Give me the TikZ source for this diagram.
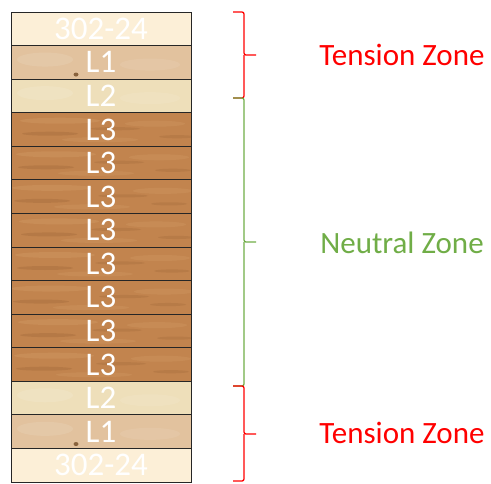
\documentclass[tikz,border=0pt]{standalone}
\usepackage{fontspec}
\setmainfont{Carlito}
\definecolor{capc}{HTML}{FCEFD7}
\definecolor{lonec}{HTML}{E2C29E}
\definecolor{ltwoc}{HTML}{EEDFBA}
\definecolor{lthreec}{HTML}{C2844E}
\definecolor{grainD}{HTML}{9A6234}
\definecolor{grainL}{HTML}{D49E68}
\definecolor{zonered}{HTML}{FF0000}
\definecolor{zonegreen}{HTML}{70AD47}
\begin{document}
\begin{tikzpicture}[x=1pt,y=-1pt,
  layer/.style={draw=black!85, line width=0.9pt, minimum width=180pt,
    minimum height=33.57pt, inner sep=0pt, text=white,
    font=\fontsize{33}{33}\selectfont},
  zone/.style={font=\fontsize{31}{31}\selectfont, inner sep=0pt},
  brace/.style={line width=1.3pt, rounded corners=2pt}]
\useasboundingbox (0,0) rectangle (491,483);

% layer fills
\foreach \i/\c in {0/capc,1/lonec,2/ltwoc,3/lthreec,4/lthreec,5/lthreec,
  6/lthreec,7/lthreec,8/lthreec,9/lthreec,10/lthreec,11/ltwoc,12/lonec,13/capc}
  \fill[\c] (11,{12+\i*33.571}) rectangle (191,{12+(\i+1)*33.571});

% wood grain of the core layers
\foreach \i in {3,...,10} {
  \begin{scope}
    \clip (11,{12+\i*33.571}) rectangle (191,{12+(\i+1)*33.571});
    \pgfmathsetmacro{\yy}{12+\i*33.571}
    \pgfmathsetmacro{\sh}{mod(\i*7,11)-5}
    \fill[grainL, opacity=0.35] ({55+\sh},\yy+8) ellipse (40 and 3);
    \fill[grainL, opacity=0.3] ({160-\sh},\yy+11) ellipse (30 and 3);
    \fill[grainD, opacity=0.3] ({45+\sh},\yy+21) ellipse (28 and 2);
    \fill[grainD, opacity=0.25] ({120-\sh},\yy+16) ellipse (25 and 1.6);
    \fill[grainD, opacity=0.25] ({172+\sh},\yy+24) ellipse (18 and 1.6);
    \fill[grainL, opacity=0.3] ({95+\sh},\yy+27) ellipse (38 and 2.5);
  \end{scope}
}
% blotches on the outer layers
\foreach \i in {1,2,11,12} {
  \begin{scope}
    \clip (11,{12+\i*33.571}) rectangle (191,{12+(\i+1)*33.571});
    \fill[white, opacity=0.1] (45,{12+\i*33.571+14}) ellipse (28 and 7);
    \fill[white, opacity=0.08] (150,{12+\i*33.571+19}) ellipse (30 and 6);
  \end{scope}
}
% knots
\fill[brown!60!black, opacity=0.8] (76,74.5) ellipse (2.5 and 2);
\fill[brown!60!black, opacity=0.8] (76,444) ellipse (2.5 and 2);

% layers with labels
\foreach \i/\t in {0/302-24,1/L1,2/L2,3/L3,4/L3,5/L3,6/L3,7/L3,8/L3,9/L3,
  10/L3,11/L2,12/L1,13/302-24}
  \node[layer] (lay\i) at (101,{12+(\i+0.5)*33.571}) {\t};

% braces
\coordinate (b1t) at (233,12);   \coordinate (b1m) at (256,55);  \coordinate (b1b) at (233,98);
\coordinate (b2t) at (233,98);   \coordinate (b2m) at (256,242); \coordinate (b2b) at (233,386);
\coordinate (b3t) at (233,386);  \coordinate (b3m) at (256,434); \coordinate (b3b) at (233,481);
\draw[brace, zonered] (b1t) -- (244,12) -- (244,55) -- (b1m);
\draw[brace, zonered] (244,55) -- (244,98) -- (b1b);
\draw[brace, zonegreen] (b2t) -- (244,98) -- (244,242) -- (b2m);
\draw[brace, zonegreen] (244,242) -- (244,386) -- (b2b);
\draw[brace, zonered] (b3t) -- (244,386) -- (244,434) -- (b3m);
\draw[brace, zonered] (244,434) -- (244,481) -- (b3b);

% zone labels
\node[zone, text=zonered] (ztop) at (402,55) {Tension Zone};
\node[zone, text=zonegreen] (zmid) at (402,243) {Neutral Zone};
\node[zone, text=zonered] (zbot) at (402,433) {Tension Zone};
\end{tikzpicture}
\end{document}
